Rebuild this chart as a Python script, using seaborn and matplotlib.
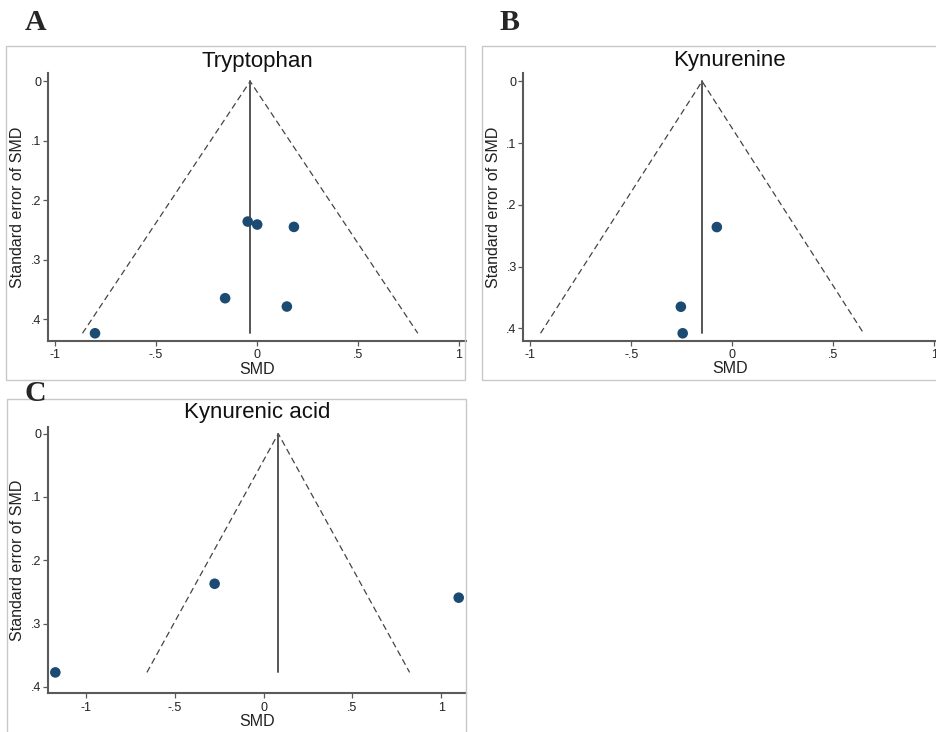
import matplotlib
matplotlib.use("Agg")
import matplotlib.pyplot as plt
from matplotlib.patches import Rectangle
import pandas as pd
import seaborn as sns

# Study estimates (standardized mean difference) and their standard errors
trp_smd = [-0.045, 0.002, 0.184, -0.157, 0.149, -0.802]
trp_se = [0.236, 0.241, 0.245, 0.365, 0.379, 0.424]
trp_pooled = -0.033

kyn_smd = [-0.077, -0.255, -0.246]
kyn_se = [0.236, 0.365, 0.408]
kyn_pooled = -0.150

kyna_smd = [-1.171, -0.275, 1.098]
kyna_se = [0.377, 0.237, 0.259]
kyna_pooled = 0.083

panel_titles = ["Tryptophan", "Kynurenine", "Kynurenic acid"]
panel_letters = ["A", "B", "C"]
x_ticks = [-1, -0.5, 0, 0.5, 1]
x_ticklabels = ["-1", "-.5", "0", ".5", "1"]
y_ticks = [0, 0.1, 0.2, 0.3, 0.4]
y_ticklabels = ["0", ".1", ".2", ".3", ".4"]

sns.set_style("white")
plt.rcParams["font.family"] = ["Liberation Sans", "DejaVu Sans"]

W, H = 936, 732
fig = plt.figure(figsize=(W / 100, H / 100), dpi=100)


def px_rect(x0, y0, x1, y1):
    """Convert a pixel box (top-left origin) into figure coordinates."""
    return [x0 / W, 1 - y1 / H, (x1 - x0) / W, (y1 - y0) / H]


# Panel frames
for x0, y0, x1, y1 in [(6, 46, 465, 380), (482, 46, 937, 380), (7, 399, 466, 733)]:
    l, b, w, h = px_rect(x0, y0, x1, y1)
    fig.add_artist(Rectangle((l, b), w, h, transform=fig.transFigure,
                             fill=False, edgecolor="#c8c8c8", lw=1.0))

panels = [
    dict(smd=trp_smd, se=trp_se, pooled=trp_pooled, box=(48, 73, 466, 341),
         xlim=(-1.035, 1.037), ylim=(0.437, -0.014), pad=4.5),
    dict(smd=kyn_smd, se=kyn_se, pooled=kyn_pooled, box=(523.3, 73.3, 936, 340.7),
         xlim=(-1.035, 1.008), ylim=(0.420, -0.013), pad=5.3),
    dict(smd=kyna_smd, se=kyna_se, pooled=kyna_pooled, box=(47.7, 426.7, 466, 693.3),
         xlim=(-1.214, 1.139), ylim=(0.410, -0.011), pad=6.0),
]

axis_col = "#5a5a5a"
for p, title in zip(panels, panel_titles):
    x0, y0, x1, y1 = p["box"]
    ax = fig.add_axes(px_rect(x0, y0, x1, y1))
    ax.set_facecolor("none")

    df = pd.DataFrame({"SMD": p["smd"], "SE": p["se"]})
    se_max = max(p["se"])
    c = p["pooled"]

    # Pseudo 95% confidence limits and pooled estimate
    ax.plot([c - 1.96 * se_max, c, c + 1.96 * se_max], [se_max, 0, se_max],
            ls=(0, (5, 3)), color="#444444", lw=0.9, zorder=2)
    ax.plot([c, c], [0, se_max], color="#555555", lw=1.4, zorder=2)

    sns.scatterplot(data=df, x="SMD", y="SE", ax=ax, s=58, color="#1b4a73",
                    edgecolor="none", linewidth=0, zorder=3, clip_on=False)

    ax.set_xlim(*p["xlim"])
    ax.set_ylim(*p["ylim"])
    ax.set_xticks(x_ticks)
    ax.set_xticklabels(x_ticklabels)
    ax.set_yticks(y_ticks)
    ax.set_yticklabels(y_ticklabels)
    ax.tick_params(axis="both", length=3.8, width=0.9, color=axis_col,
                   labelsize=9, labelcolor="#222222", pad=1.0, direction="out")
    ax.tick_params(axis="x", bottom=True, pad=2.2)
    ax.tick_params(axis="y", left=True)
    for side in ["top", "right"]:
        ax.spines[side].set_visible(False)
    for side in ["left", "bottom"]:
        ax.spines[side].set_color(axis_col)
        ax.spines[side].set_linewidth(1.5)

    ax.set_title(title, fontsize=16, pad=p["pad"], color="#111111")
    width_px = x1 - x0
    height_px = y1 - y0
    ax.set_ylabel("Standard error of SMD", fontsize=11.5, va="center", color="#222222")
    ax.yaxis.set_label_coords(-30.0 / width_px, 0.5)
    ax.set_xlabel("SMD", fontsize=11.5, va="center", color="#222222")
    ax.xaxis.set_label_coords(0.5, -28 / height_px)

# Panel letters
for letter, (lx, ly) in zip(panel_letters, [(25, 30), (499, 30), (25, 401)]):
    fig.text(lx / W, 1 - ly / H, letter, fontsize=21.5, fontweight="bold",
             family=["Liberation Serif", "DejaVu Serif"], va="baseline", ha="left")

fig.savefig("out.png", dpi=100)
